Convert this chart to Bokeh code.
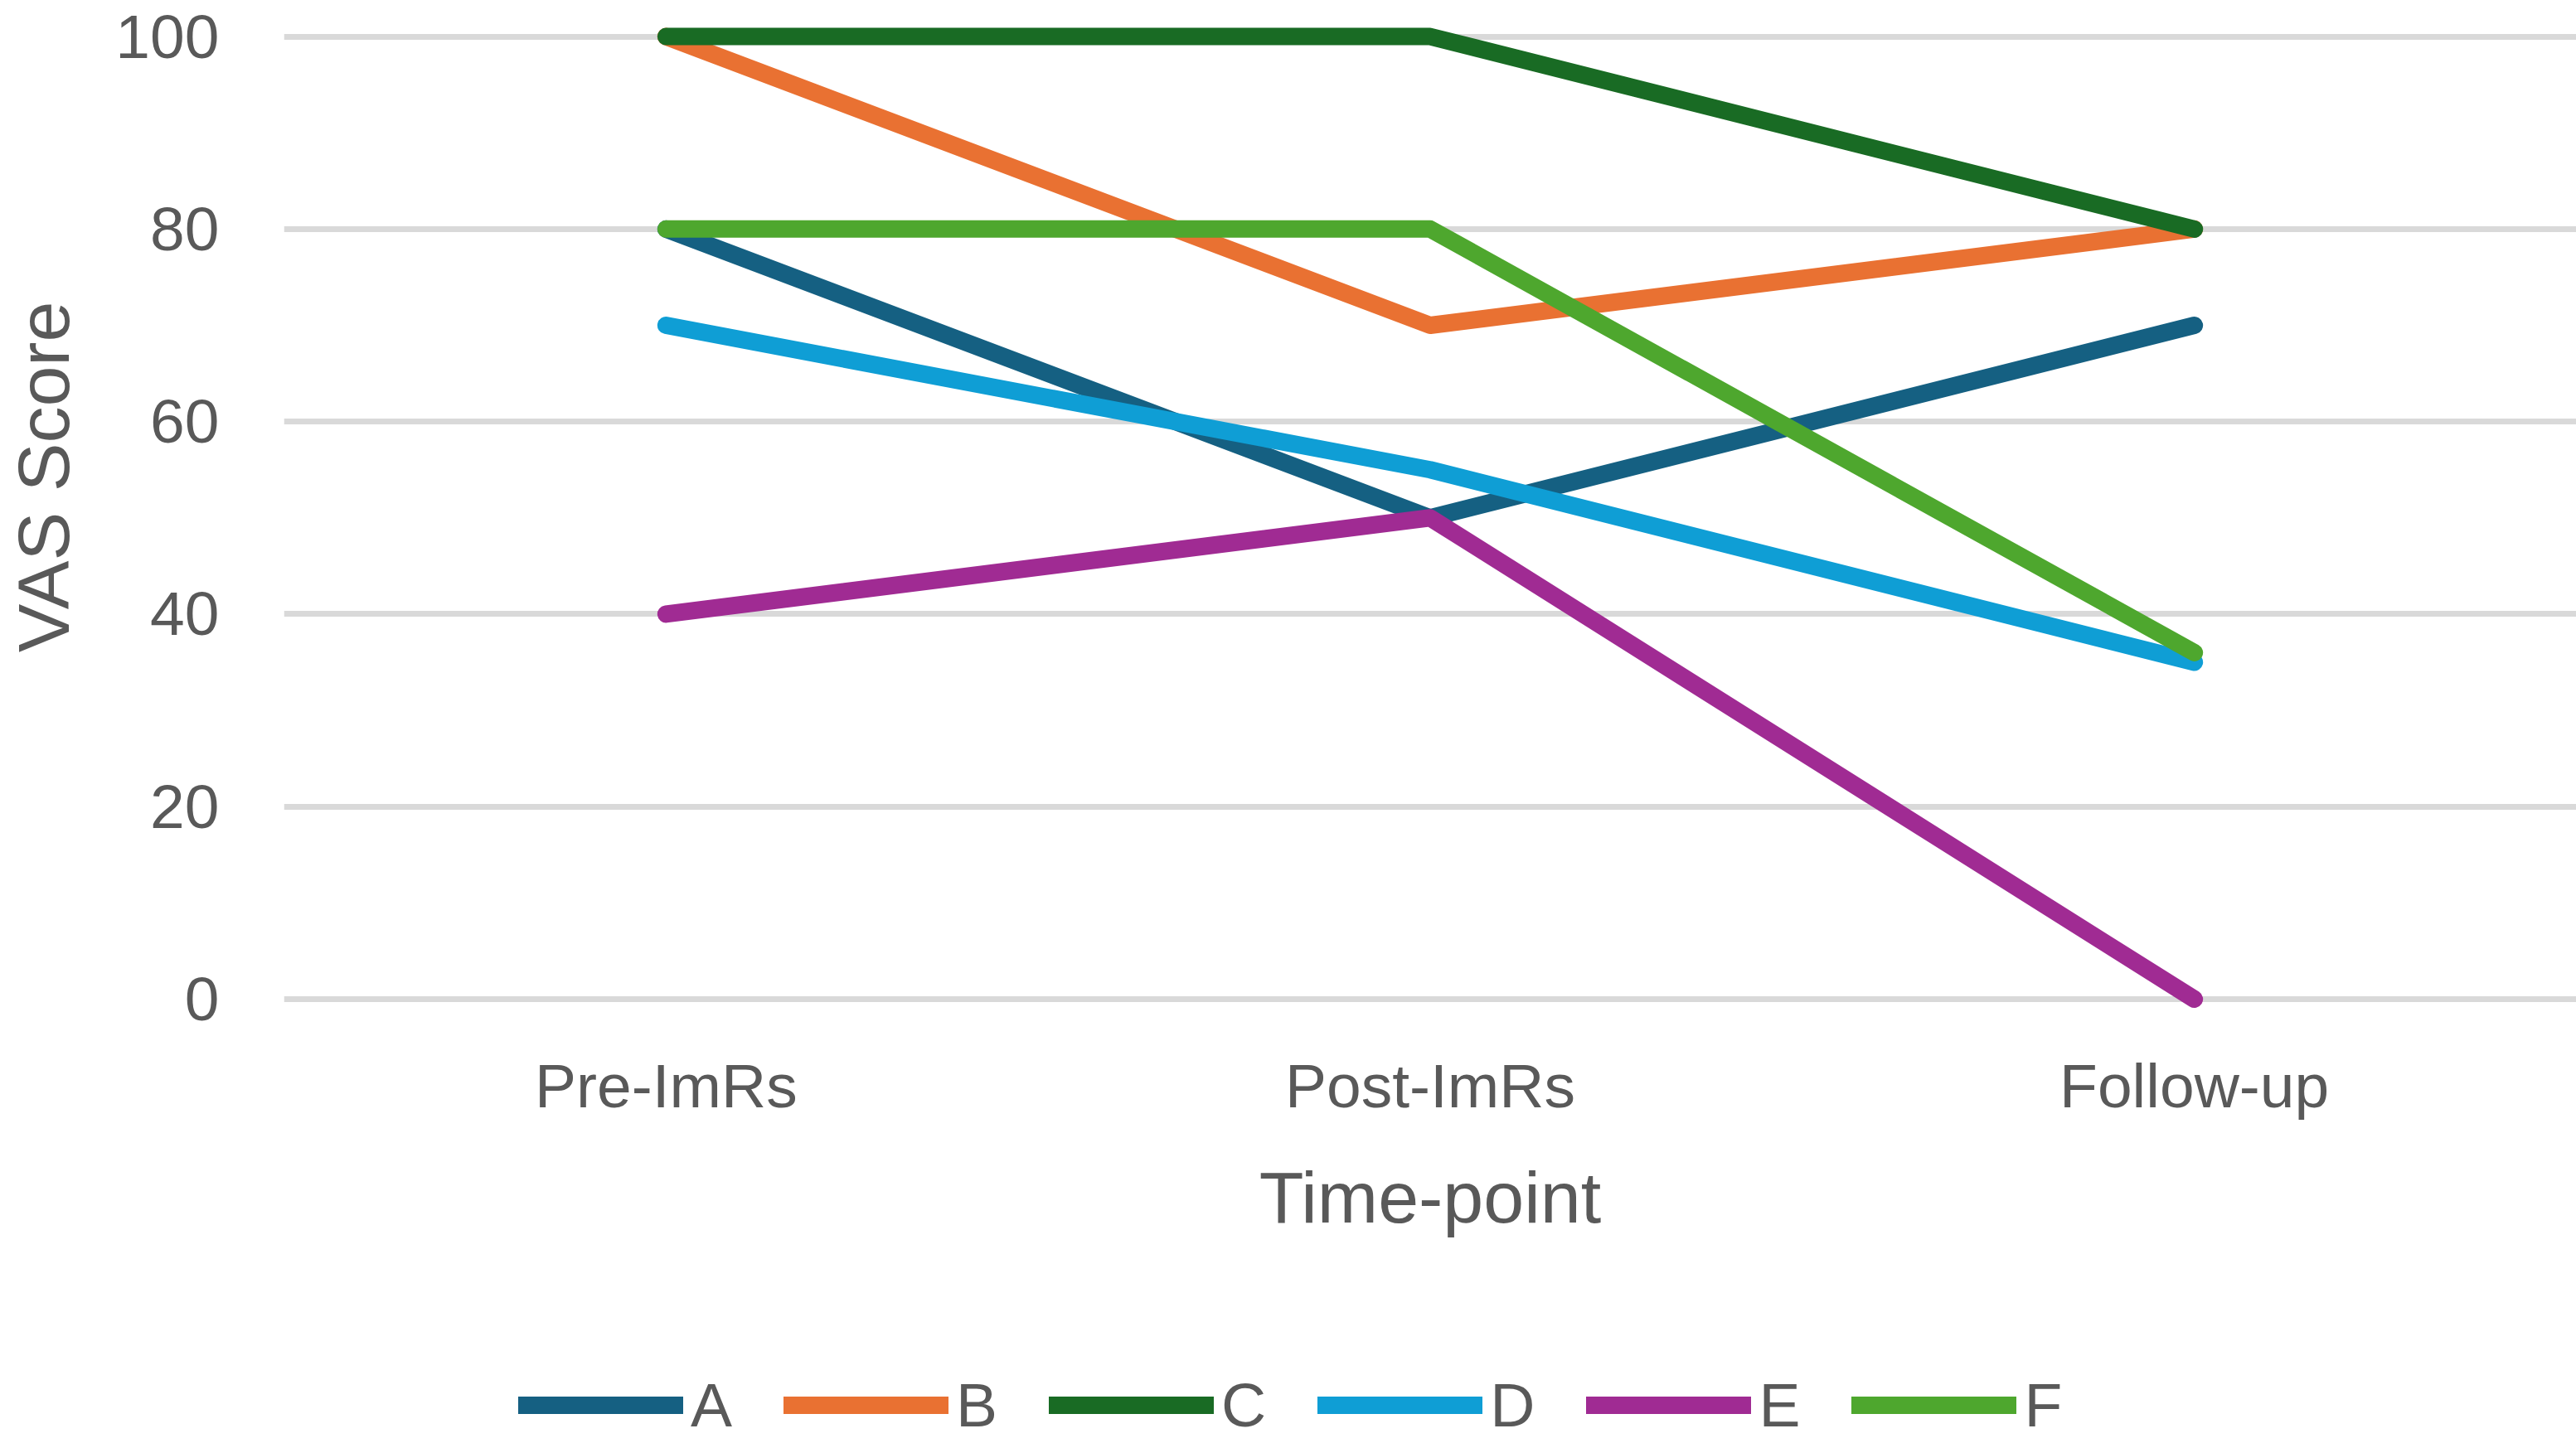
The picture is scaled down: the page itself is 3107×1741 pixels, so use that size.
from bokeh.plotting import figure
from bokeh.models import FactorRange, Range1d, FixedTicker, Legend
from bokeh.embed import file_html
from bokeh.resources import INLINE

timepoints = ["Pre-ImRs", "Post-ImRs", "Follow-up"]
series_names = ["A", "B", "C", "D", "E", "F"]
A = [80, 50, 70]
B = [100, 70, 80]
C = [100, 100, 80]
D = [70, 55, 35]
E = [40, 50, 0]
F = [80, 80, 36]
y_ticks = [0, 20, 40, 60, 80, 100]
colors = ["#156082", "#E97132", "#196B24", "#0F9ED5", "#A02B93", "#4EA72E"]

FONT = "Liberation Sans"
TXT = "#595959"

# the plotting frame runs down to the bottom of the page so that the x axis,
# its title and the legend can sit beneath the value area without being clipped
p = figure(width=3107, height=1741, output_backend="svg", toolbar_location=None,
           x_range=FactorRange(*timepoints, range_padding=0),
           y_range=Range1d(-46.15, 102.03),
           min_border_left=341, min_border_right=0, min_border_top=20,
           min_border_bottom=0)
p.outline_line_color = None
p.background_fill_color = "white"
p.border_fill_color = "white"

items = []
for name, vals, col in zip(series_names, [A, B, C, D, E, F], colors):
    r = p.line(timepoints, vals, line_color=col, line_width=21, line_cap="round",
               line_join="round")
    items.append((name, [r]))

p.xgrid.grid_line_color = None
p.ygrid.ticker = FixedTicker(ticks=y_ticks)
p.ygrid.grid_line_color = "#D9D9D9"
p.ygrid.grid_line_width = 7

p.yaxis.ticker = FixedTicker(ticks=y_ticks)
for ax in (p.xaxis[0], p.yaxis[0]):
    ax.axis_line_color = None
    ax.major_tick_line_color = None
    ax.minor_tick_line_color = None
    ax.major_tick_out = 0
    ax.major_tick_in = 0
    ax.major_label_text_font = FONT
    ax.major_label_text_font_size = "75px"
    ax.major_label_text_color = TXT
    ax.axis_label_text_font = FONT
    ax.axis_label_text_font_size = "88px"
    ax.axis_label_text_font_style = "normal"
    ax.axis_label_text_color = TXT

p.xaxis.fixed_location = -2
p.xaxis.axis_label = "Time-point"
# leading no-break spaces shift the visible title up to where the reference has it
p.yaxis.axis_label = "\u00a0" * 25 + "VAS Score"
p.xaxis.major_label_standoff = 39
p.xaxis.axis_label_standoff = 40
p.yaxis.major_label_standoff = 78
p.yaxis.axis_label_standoff = 34

lg = Legend(items=items, orientation="horizontal", location=(283, 1))
lg.border_line_color = None
lg.background_fill_alpha = 0
lg.padding = 0
lg.margin = 0
lg.spacing = 62
lg.label_standoff = 9
lg.glyph_width = 199
lg.glyph_height = 90
lg.label_height = 90
lg.label_text_font = FONT
lg.label_text_font_size = "75px"
lg.label_text_color = TXT
p.add_layout(lg, "center")

open("out.html", "w").write(file_html(p, INLINE))
